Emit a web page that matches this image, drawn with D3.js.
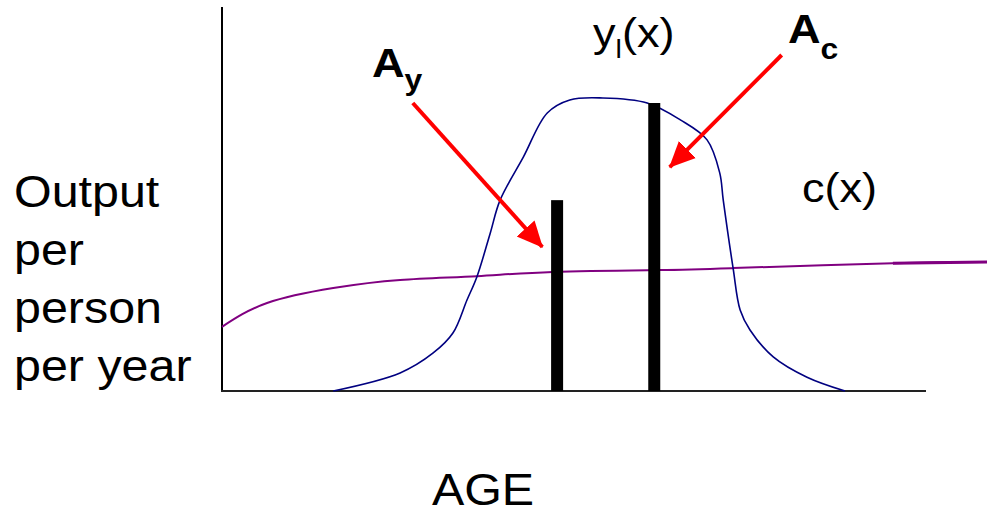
<!DOCTYPE html>
<html>
<head>
<meta charset="utf-8">
<script src="https://cdn.jsdelivr.net/npm/d3@7"></script>
<style>
  body { margin: 0; background: #fff; }
  svg { display: block; font-family: "Liberation Sans", Arial, sans-serif; }
</style>
</head>
<body>
<div id="vis"></div>
<script>
// age on x (0-100), output per person on y (0-100)
const yl_age = [15.8, 25.3, 30.0, 32.8, 34.8, 36.2, 38.1, 39.5, 42.8, 46.2, 49.4, 54.1, 60.4, 65.1, 68.9, 70.7, 71.2, 72.6, 73.6, 75.0, 78.3, 83.1, 88.5];
const yl_val = [0, 4.7, 9.9, 15.1, 23.7, 29.7, 41.1, 49.7, 60.9, 72.4, 75.8, 76.3, 75.0, 70.6, 65.4, 56.8, 49.7, 32.0, 21.1, 15.9, 8.9, 3.6, 0];

const c_age = [0, 6.4, 15.8, 25.3, 36.2, 47.0, 62.2, 72.6, 95.3, 108.7];
const c_val = [16.7, 22.9, 26.8, 28.9, 29.9, 31.0, 31.5, 32.0, 33.3, 33.6];

const bar_age = [47.6, 61.4];
const bar_val = [49.7, 75.0];

// arrows: [from age, from val, to age, to val]
const arrows = [
    [27.1, 75.0, 45.5, 37.5],
    [79.5, 87.5, 63.6, 58.3]
];

const width = 987;
const height = 515;
const stretch = 1.1; // text in the original is a bit wide

const svg = d3.select('#vis')
    .append('svg')
    .attr('width', width)
    .attr('height', height);

const x = d3.scaleLinear().domain([0, 100]).range([222, 926]);
const y = d3.scaleLinear().domain([0, 100]).range([391, 7]);

svg.append('defs').append('marker')
    .attr('id', 'head')
    .attr('markerUnits', 'userSpaceOnUse')
    .attr('viewBox', '0 -13 26 26')
    .attr('markerWidth', 26)
    .attr('markerHeight', 26)
    .attr('refX', 25)
    .attr('refY', 0)
    .attr('orient', 'auto')
    .append('path')
    .attr('d', 'M0,-12L26,0L0,12Z')
    .attr('fill', '#ff0000');

// axes
svg.append('line')
    .attr('x1', x(0)).attr('x2', x(0))
    .attr('y1', y(100)).attr('y2', y(0))
    .attr('stroke', '#000')
    .attr('stroke-width', 2);

svg.append('line')
    .attr('x1', x(0) - 1).attr('x2', x(100))
    .attr('y1', y(0)).attr('y2', y(0))
    .attr('stroke', '#222')
    .attr('stroke-width', 2);

const smooth = d3.line()
    .x(d => x(d[0]))
    .y(d => y(d[1]))
    .curve(d3.curveNatural);

const bell = d3.line()
    .x(d => x(d[0]))
    .y(d => y(d[1]))
    .curve(d3.curveCatmullRom.alpha(0.5));

const c_pts = c_age.map((a, i) => [a, c_val[i]]);
svg.append('path')
    .datum(c_pts)
    .attr('d', smooth)
    .attr('fill', 'none')
    .attr('stroke', '#800080')
    .attr('stroke-width', 2);

// last bit of c(x) is drawn heavier in the original
svg.append('path')
    .datum(c_pts.slice(-2))
    .attr('d', smooth)
    .attr('fill', 'none')
    .attr('stroke', '#800080')
    .attr('stroke-width', 3);

svg.append('path')
    .datum(yl_age.map((a, i) => [a, yl_val[i]]))
    .attr('d', bell)
    .attr('fill', 'none')
    .attr('stroke', '#000080')
    .attr('stroke-width', 1.6);

for (var i = 0; i < bar_age.length; i++) {
    svg.append('rect')
        .attr('x', x(bar_age[i]) - 6)
        .attr('y', y(bar_val[i]))
        .attr('width', 12)
        .attr('height', y(0) - y(bar_val[i]))
        .attr('fill', '#000');
}

for (var i = 0; i < arrows.length; i++) {
    svg.append('line')
        .attr('x1', x(arrows[i][0]))
        .attr('y1', y(arrows[i][1]))
        .attr('x2', x(arrows[i][2]))
        .attr('y2', y(arrows[i][3]))
        .attr('stroke', '#ff0000')
        .attr('stroke-width', 4)
        .attr('marker-end', 'url(#head)');
}

function addText(px, py, size) {
    return svg.append('text')
        .attr('transform', 'translate(' + px + ',' + py + ') scale(' + stretch + ',1)')
        .attr('font-size', size + 'px')
        .attr('fill', '#000');
}

// y label
const ylab = ['Output', 'per', 'person', 'per year'];
for (var i = 0; i < ylab.length; i++) {
    addText(14, 207 + i * 58, 44).text(ylab[i]);
}

addText(483, 505, 44)
    .attr('text-anchor', 'middle')
    .text('AGE');

// curve labels
const yl = addText(593, 47, 41);
yl.append('tspan').text('y');
yl.append('tspan').attr('font-size', '26px').attr('dy', 11).text('l');
yl.append('tspan').attr('dy', -11).text('(x)');

addText(802, 202, 41).text('c(x)');

const ay = addText(372, 77, 41).attr('font-weight', 'bold');
ay.append('tspan').text('A');
ay.append('tspan').attr('font-size', '29px').attr('dy', 13).text('y');

const ac = addText(788, 43, 41).attr('font-weight', 'bold');
ac.append('tspan').text('A');
ac.append('tspan').attr('font-size', '29px').attr('dy', 16).text('c');
</script>
</body>
</html>
